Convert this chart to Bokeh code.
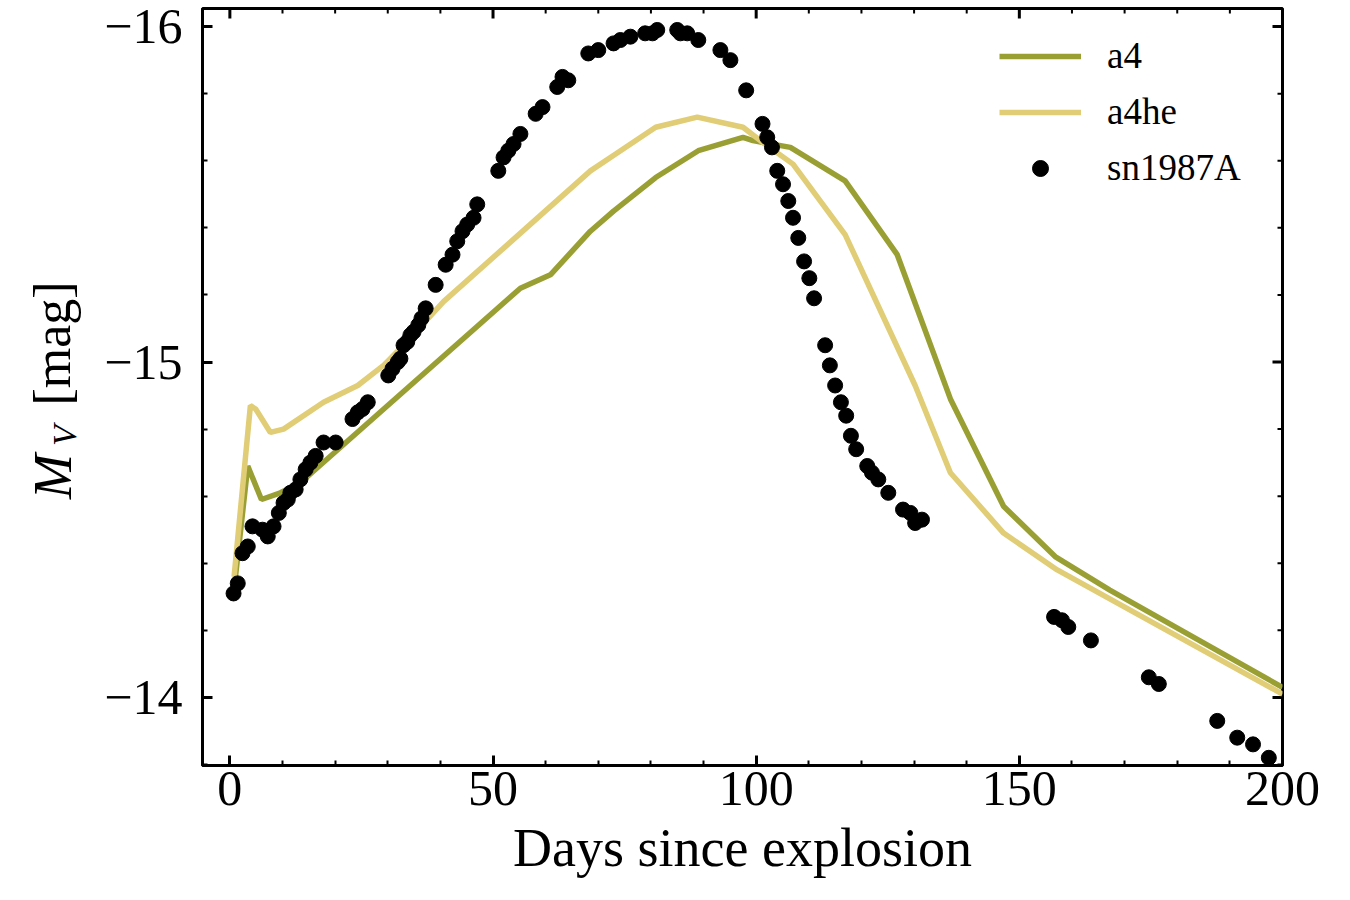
import math
from bokeh.plotting import figure
from bokeh.layouts import row
from bokeh.models import Range1d, LinearAxis, FixedTicker
from bokeh.core.properties import value
from bokeh.embed import file_html
from bokeh.resources import INLINE

# Model light curves (days since explosion, absolute V magnitude)
a4_day = [1.0, 3.4, 6.0, 9.6, 13.4, 55.2, 60.9, 68.5, 72.9, 80.9, 89.0, 97.5, 99.4,
          106.5, 116.9, 126.8, 136.9, 147.0, 156.8, 167.2, 200.0]
a4_mag = [-14.35, -14.69, -14.59, -14.61, -14.64, -15.22, -15.26, -15.39, -15.45, -15.55,
          -15.63, -15.67, -15.66, -15.64, -15.54, -15.32, -14.89, -14.57, -14.42, -14.32, -14.03]

a4he_day = [0.8, 3.9, 4.9, 7.7, 10.2, 17.8, 24.3, 29.2, 33.0, 40.6, 68.5, 73.3, 80.9,
            88.8, 97.5, 100.8, 107.0, 116.9, 130.2, 136.9, 147.0, 157.2, 200.0]
a4he_mag = [-14.36, -14.87, -14.86, -14.79, -14.80, -14.88, -14.93, -14.99, -15.05, -15.18,
            -15.57, -15.62, -15.70, -15.73, -15.70, -15.66, -15.59, -15.38, -14.93, -14.67,
            -14.49, -14.38, -14.01]

# SN 1987A photometry
sn_day = [0.7, 1.5, 2.4, 3.4, 4.3, 6.2, 7.2, 8.3, 9.3, 10.2, 11.0, 11.5, 12.5, 13.4, 14.4,
          15.3, 16.3, 17.8, 20.1, 23.3, 24.3, 25.2, 26.2, 30.1, 30.9, 31.9, 32.4, 33.0,
          33.7, 34.3, 34.9, 35.8, 36.4, 37.2, 39.1, 41.0, 42.3, 43.2, 44.2, 45.1, 46.3,
          47.0, 51.0, 52.0, 52.9, 53.9, 55.2, 58.1, 59.4, 62.2, 63.2, 64.3, 68.1, 70.0,
          72.9, 74.2, 76.1, 78.9, 80.3, 81.2, 85.0, 85.6, 86.9, 89.0, 93.2, 95.1, 98.1,
          101.2, 102.1, 103.0, 104.0, 105.1, 106.1, 107.0, 108.0, 109.1, 110.1, 111.0,
          113.1, 114.0, 115.0, 116.1, 117.1, 118.0, 119.0, 121.1, 122.0, 123.2, 125.1,
          127.9, 129.3, 130.2, 131.5, 156.6, 158.1, 159.3, 163.6, 174.6, 176.5, 187.6,
          191.4, 194.4, 197.4]
sn_mag = [-14.31, -14.34, -14.43, -14.45, -14.51, -14.50, -14.48, -14.51, -14.55, -14.58,
          -14.59, -14.61, -14.62, -14.65, -14.68, -14.70, -14.72, -14.76, -14.76, -14.83,
          -14.85, -14.86, -14.88, -14.96, -14.98, -15.00, -15.01, -15.05, -15.06, -15.08,
          -15.09, -15.11, -15.13, -15.16, -15.23, -15.29, -15.32, -15.36, -15.39, -15.41,
          -15.43, -15.47, -15.57, -15.61, -15.63, -15.65, -15.68, -15.74, -15.76, -15.82,
          -15.85, -15.84, -15.92, -15.93, -15.95, -15.96, -15.97, -15.98, -15.98, -15.99,
          -15.99, -15.98, -15.98, -15.96, -15.93, -15.90, -15.81, -15.71, -15.67, -15.64,
          -15.57, -15.53, -15.48, -15.43, -15.37, -15.30, -15.25, -15.19, -15.05, -14.99,
          -14.93, -14.88, -14.84, -14.78, -14.74, -14.69, -14.67, -14.65, -14.61, -14.56,
          -14.55, -14.52, -14.53, -14.24, -14.23, -14.21, -14.17, -14.06, -14.04, -13.93,
          -13.88, -13.86, -13.82]

x_major = [0, 50, 100, 150, 200]
x_minor = [v for v in range(-10, 201, 10) if v % 50 != 0]
y_major = [-16, -15, -14]
y_minor = [round(-16.2 + 0.2 * i, 1) for i in range(14) if (i % 5) != 1]
y_labels = {-16: "\u221216", -15: "\u221215", -14: "\u221214"}

SERIF = "Liberation Serif"
A4_COLOR = "#9a9f33"
A4HE_COLOR = "#e0cd76"

X0, X1 = -5.2, 200.0
Y_BOTTOM, Y_TOP = -13.797, -16.054
FRAME_W, FRAME_H = 1080, 757
TOP_B, BOTTOM_B = 8, 135
LEFT_W = 100

p = figure(width=1350 - LEFT_W, height=900, output_backend="svg", toolbar_location=None,
           x_range=Range1d(X0, X1), y_range=Range1d(Y_BOTTOM, Y_TOP),
           x_axis_location=None, y_axis_location=None,
           min_border_left=202 - LEFT_W, min_border_right=68,
           min_border_top=TOP_B, min_border_bottom=BOTTOM_B)
p.grid.visible = False
p.outline_line_color = "black"
p.outline_line_width = 3


def style_axis(ax, major, minor):
    ax.ticker = FixedTicker(ticks=major, minor_ticks=minor)
    ax.axis_line_width = 3
    ax.axis_line_color = "black"
    ax.major_tick_in = 10
    ax.major_tick_out = 0
    ax.minor_tick_in = 5
    ax.minor_tick_out = 0
    ax.major_tick_line_width = 3
    ax.minor_tick_line_width = 2
    ax.major_label_text_font = SERIF
    ax.major_label_text_font_size = "50px"
    ax.major_label_text_color = "black"


xb = LinearAxis()
style_axis(xb, x_major, x_minor)
xb.major_label_standoff = 6
xb.axis_label = "Days since explosion"
xb.axis_label_text_font = SERIF
xb.axis_label_text_font_size = "54px"
xb.axis_label_text_font_style = "normal"
xb.axis_label_text_color = "black"
xb.axis_label_standoff = 10
p.add_layout(xb, "below")

yl = LinearAxis()
style_axis(yl, y_major, y_minor)
yl.major_label_overrides = y_labels
yl.major_label_standoff = 20
p.add_layout(yl, "left")

# Inward ticks mirrored on the top and right edges of the frame
ypp = (Y_BOTTOM - Y_TOP) / FRAME_H
xpp = (X1 - X0) / FRAME_W
for ticks, length, width in ((x_major, 10, 3), (x_minor, 5, 2)):
    p.segment(x0=ticks, y0=[Y_TOP] * len(ticks), x1=ticks,
              y1=[Y_TOP + length * ypp] * len(ticks), line_color="black", line_width=width)
for ticks, length, width in ((y_major, 10, 3), (y_minor, 5, 2)):
    p.segment(x0=[X1] * len(ticks), y0=ticks, x1=[X1 - length * xpp] * len(ticks),
              y1=ticks, line_color="black", line_width=width)

p.line(a4_day, a4_mag, line_color=A4_COLOR, line_width=5.5, legend_label="a4")
p.line(a4he_day, a4he_mag, line_color=A4HE_COLOR, line_width=5.5, legend_label="a4he")
p.scatter(sn_day, sn_mag, size=15, fill_color="black", line_color="black",
          legend_label="sn1987A")

lg = p.legend[0]
lg.location = (797, 576)
lg.border_line_color = None
lg.background_fill_alpha = 0
lg.padding = 0
lg.margin = 0
lg.spacing = 13
lg.glyph_width = 82
lg.glyph_height = 40
lg.label_height = 40
lg.label_standoff = 26
lg.label_text_font = SERIF
lg.label_text_font_size = "37px"
lg.label_text_color = "black"

# Vertical axis title M_V [mag], set in a narrow strip left of the plot.
# The strip's frame is row-aligned with the main frame, so its y range is
# chosen to give page pixels measured from the top (y = 900 - pixel row).
lab = figure(width=LEFT_W, height=900, output_backend="svg", toolbar_location=None,
             x_range=Range1d(0, LEFT_W), y_range=Range1d(BOTTOM_B, 900 - TOP_B),
             x_axis_location=None, y_axis_location=None, min_border=0,
             min_border_top=TOP_B, min_border_bottom=BOTTOM_B)
lab.grid.visible = False
lab.outline_line_color = None
ang = math.pi / 2
common = dict(angle=ang, text_font=value(SERIF), text_color="black",
              text_align="center", text_baseline="middle")
lab.text(x=[52], y=[900 - 476], text=["M"], text_font_size="54px",
         text_font_style="italic", **common)
lab.text(x=[64], y=[900 - 435], text=["V"], text_font_size="34px",
         text_font_style="italic", **common)
lab.text(x=[52], y=[900 - 343], text=["[mag]"], text_font_size="52px", **common)

layout = row(lab, p, spacing=0)
open("out.html", "w").write(file_html(layout, INLINE))
